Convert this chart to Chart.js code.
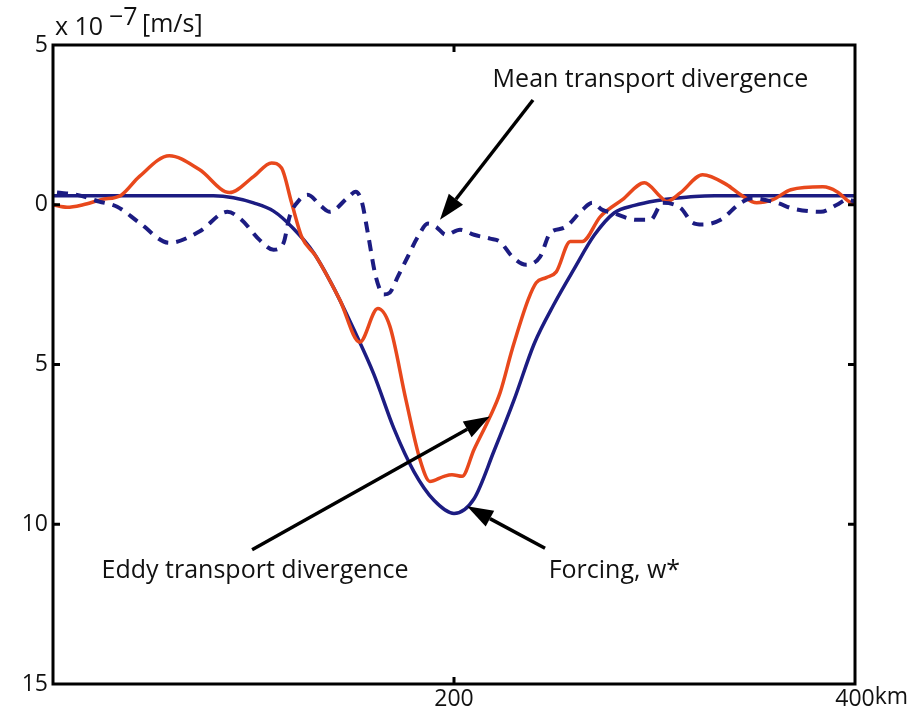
<!DOCTYPE html>
<html>
<head>
<meta charset="utf-8">
<script src="https://cdn.jsdelivr.net/npm/chart.js@4/dist/chart.umd.min.js"></script>
<style>
  html, body { margin: 0; padding: 0; background: #fff; }
  #wrap { width: 910px; height: 713px; }
</style>
</head>
<body>
<div id="wrap"><canvas id="plot" width="910" height="713"></canvas></div>
<script>
// distance along section, km
const forcingKm = [0, 10, 20, 30, 40, 50, 60, 70, 80, 90, 100, 110, 120, 130, 140, 150, 160, 170, 180, 190,
  200, 210, 220, 230, 240, 250, 260, 270, 280, 290, 300, 310, 320, 330, 340, 350, 360, 370, 380, 390, 400];
// forcing w* (x 1e-7 m/s, positive = down on plot)
const forcingVal = [-0.28, -0.28, -0.28, -0.28, -0.28, -0.28, -0.28, -0.28, -0.28, -0.22, -0.06, 0.2, 0.75, 1.5, 2.6, 3.9, 5.3, 7.0, 8.35, 9.25,
  9.66, 9.2, 7.7, 6.1, 4.35, 3.1, 2.0, 0.95, 0.25, 0.02, -0.12, -0.2, -0.26, -0.28, -0.28, -0.28, -0.28, -0.28, -0.28, -0.28, -0.28];

const eddyKm = [0, 7, 15, 24, 34, 43, 58, 73, 88, 100, 109, 114, 119, 124, 131, 143, 153, 162, 168, 176,
  183, 188, 195, 199, 204, 210, 218, 223, 229, 237, 241, 246, 251, 258, 264, 273, 284, 295, 303, 306,
  313, 324, 336, 343, 351, 359, 368, 384, 391, 397, 400];
const eddyVal = [0.0, 0.08, 0.0, -0.16, -0.3, -0.88, -1.53, -1.1, -0.38, -0.88, -1.31, -1.15, -0.06, 1.0, 1.6, 2.97, 4.3, 3.25, 3.8, 6.1,
  7.97, 8.66, 8.5, 8.45, 8.5, 7.66, 6.63, 5.88, 4.53, 2.97, 2.44, 2.28, 2.1, 1.15, 1.15, 0.37, -0.16, -0.69, -0.25, -0.1,
  -0.38, -0.94, -0.63, -0.31, -0.06, -0.16, -0.47, -0.56, -0.41, -0.1, 0.0];

const meanKm = [2, 12, 23, 32, 43, 58, 73, 87, 94, 103, 110, 115, 118, 123, 127, 134, 138, 147, 151, 154,
  157, 161, 165, 168, 172, 177, 182, 187, 191, 196, 203, 210, 218, 223, 229, 236, 243, 248, 255, 264,
  269, 274, 279, 291, 298, 304, 313, 319, 324, 333, 343, 349, 361, 369, 383, 391, 396, 400];
const meanVal = [-0.38, -0.31, -0.1, 0.06, 0.56, 1.19, 0.84, 0.22, 0.47, 1.1, 1.41, 1.19, 0.37, -0.16, -0.31, 0.06, 0.22, -0.22, -0.41, -0.1,
  0.88, 2.25, 2.81, 2.75, 2.25, 1.62, 1.0, 0.59, 0.69, 0.94, 0.78, 0.94, 1.06, 1.16, 1.62, 1.88, 1.62, 0.88, 0.72, 0.16,
  -0.06, 0.16, 0.25, 0.47, 0.47, -0.06, 0.1, 0.56, 0.62, 0.47, -0.06, -0.2, -0.06, 0.12, 0.22, 0.0, -0.16, -0.1];

const xTicks = [200, 400];
const yTicks = [-5, 0, 5, 10, 15];

// labels + arrows, in data coords [km, value]
const notes = [
  { text: 'Mean transport divergence', at: [298, -3.9], from: [239.4, -3.28], to: [193, 0.47] },
  { text: 'Eddy transport divergence', at: [100.8, 11.45], from: [99.3, 10.8], to: [217.9, 6.63] },
  { text: 'Forcing, w*', at: [280, 11.45], from: [245.4, 10.75], to: [206.5, 9.44] }
];

const FONT = "'Open Sans', 'Noto Sans', sans-serif";
const NAVY = '#1c1c82';
const RED = '#e8481c';

function pts(xs, ys) {
  return xs.map((v, i) => ({ x: v, y: ys[i] }));
}

function arrow(ctx, x1, y1, x2, y2) {
  const ang = Math.atan2(y2 - y1, x2 - x1);
  const len = 26, half = 9;
  const bx = x2 - len * Math.cos(ang), by = y2 - len * Math.sin(ang);
  ctx.beginPath();
  ctx.moveTo(x1, y1);
  ctx.lineTo(bx, by);
  ctx.stroke();
  ctx.beginPath();
  ctx.moveTo(x2, y2);
  ctx.lineTo(bx + half * Math.sin(ang), by - half * Math.cos(ang));
  ctx.lineTo(bx - half * Math.sin(ang), by + half * Math.cos(ang));
  ctx.closePath();
  ctx.fill();
}

const decor = {
  id: 'decor',
  afterDraw(chart) {
    const { ctx, chartArea: a, scales: { x, y } } = chart;
    ctx.save();
    ctx.strokeStyle = '#000';
    ctx.fillStyle = '#000';

    // frame
    ctx.lineWidth = 3;
    ctx.strokeRect(a.left, a.top, a.right - a.left, a.bottom - a.top);

    // inward ticks
    ctx.beginPath();
    yTicks.slice(1, -1).forEach(v => {
      const py = y.getPixelForValue(v);
      ctx.moveTo(a.left, py); ctx.lineTo(a.left + 7, py);
      ctx.moveTo(a.right, py); ctx.lineTo(a.right - 7, py);
    });
    xTicks.slice(0, -1).forEach(v => {
      const px = x.getPixelForValue(v);
      ctx.moveTo(px, a.bottom); ctx.lineTo(px, a.bottom - 7);
      ctx.moveTo(px, a.top); ctx.lineTo(px, a.top + 7);
    });
    ctx.stroke();

    // arrows
    ctx.lineWidth = 3.5;
    notes.forEach(n => {
      arrow(ctx, x.getPixelForValue(n.from[0]), y.getPixelForValue(n.from[1]),
        x.getPixelForValue(n.to[0]), y.getPixelForValue(n.to[1]));
    });

    // note texts
    ctx.font = '25px ' + FONT;
    ctx.textAlign = 'center';
    ctx.textBaseline = 'middle';
    ctx.fillStyle = '#111';
    notes.forEach(n => {
      ctx.fillText(n.text, x.getPixelForValue(n.at[0]), y.getPixelForValue(n.at[1]));
    });

    // unit after last x label
    ctx.font = '23px ' + FONT;
    const lastPx = x.getPixelForValue(xTicks[xTicks.length - 1]);
    const w400 = ctx.measureText('400').width;
    ctx.textAlign = 'left';
    ctx.textBaseline = 'top';
    ctx.fillText('km', lastPx + w400 / 2, a.bottom + 2);

    // exponent label
    ctx.textBaseline = 'alphabetic';
    ctx.font = '25px ' + FONT;
    ctx.fillText('x 10', a.left + 2, 35);
    ctx.fillText('\u22127', a.left + 56, 25);
    ctx.fillText('[m/s]', a.left + 89, 32);
    ctx.restore();
  }
};

new Chart(document.getElementById('plot'), {
  type: 'line',
  data: {
    datasets: [
      {
        label: 'Mean transport divergence',
        data: pts(meanKm, meanVal),
        borderColor: NAVY,
        borderWidth: 4,
        borderDash: [11, 8],
        pointRadius: 0,
        cubicInterpolationMode: 'monotone'
      },
      {
        label: 'Eddy transport divergence',
        data: pts(eddyKm, eddyVal),
        borderColor: RED,
        borderWidth: 3.5,
        pointRadius: 0,
        cubicInterpolationMode: 'monotone'
      },
      {
        label: 'Forcing, w*',
        data: pts(forcingKm, forcingVal),
        borderColor: NAVY,
        borderWidth: 3.5,
        pointRadius: 0,
        cubicInterpolationMode: 'monotone'
      }
    ]
  },
  options: {
    responsive: false,
    animation: false,
    layout: { padding: { top: 45, right: 55, left: 0, bottom: 0 } },
    plugins: { legend: { display: false }, tooltip: { enabled: false } },
    scales: {
      x: {
        type: 'linear',
        min: 0,
        max: 400,
        grid: { display: false, drawTicks: false },
        border: { display: false },
        afterBuildTicks: s => { s.ticks = xTicks.map(v => ({ value: v })); },
        afterFit: s => { s.height = 713 - 684; },
        ticks: { color: '#111', font: { size: 23, family: FONT }, padding: 2, maxRotation: 0, autoSkip: false }
      },
      y: {
        type: 'linear',
        min: -5,
        max: 15,
        reverse: true,
        grid: { display: false, drawTicks: false },
        border: { display: false },
        afterBuildTicks: s => { s.ticks = yTicks.map(v => ({ value: v })); },
        afterFit: s => { s.width = 53; },
        ticks: { color: '#111', font: { size: 23, family: FONT }, padding: 5, callback: v => String(Math.abs(v)) }
      }
    }
  },
  plugins: [decor]
});
</script>
</body>
</html>
